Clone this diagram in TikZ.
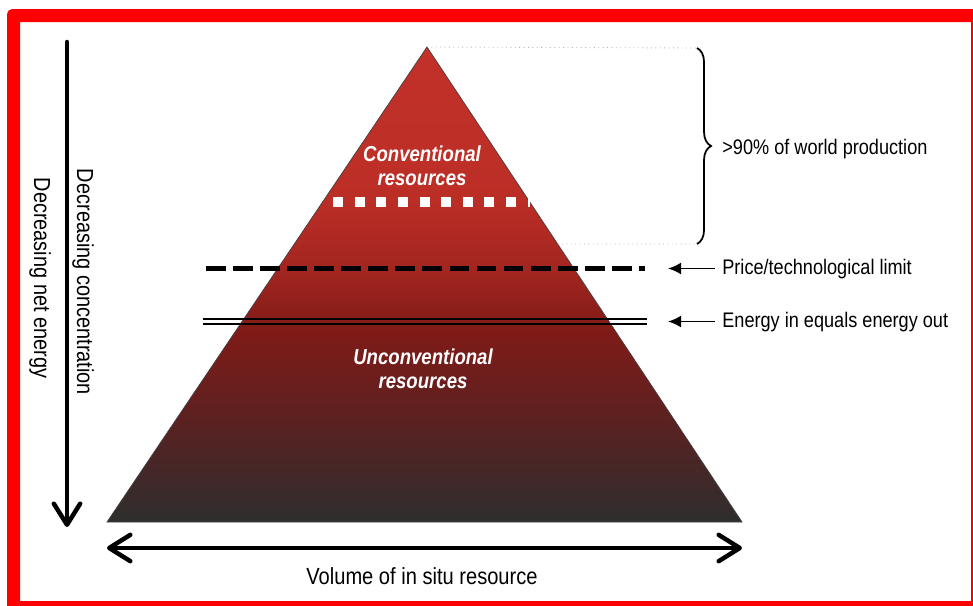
\documentclass[tikz,border=0pt]{standalone}
\usepackage{fontspec}
\setmainfont{Liberation Sans}[FakeStretch=0.86]
\usepackage{tikz}
\usetikzlibrary{arrows.meta,calc,decorations.pathreplacing,positioning}
\definecolor{pyrtop}{HTML}{C2312A}
\definecolor{pyrupper}{HTML}{BB2E26}
\definecolor{pyrline}{HTML}{A32520}
\definecolor{pyrmid}{HTML}{801B17}
\definecolor{pyrlow}{HTML}{5B2121}
\definecolor{pyrbot}{HTML}{2E2E2E}
\definecolor{frame}{HTML}{FF0000}
\pgfdeclareverticalshading{pyrshade}{100bp}{color(0bp)=(pyrbot); color(25bp)=(pyrbot); color(35.7bp)=(pyrlow); color(45.2bp)=(pyrmid); color(51.5bp)=(pyrline); color(58.9bp)=(pyrupper); color(75bp)=(pyrtop); color(100bp)=(pyrtop)}

\begin{document}
\begin{tikzpicture}[
		x=0.02cm, y=-0.02cm,
		>={Latex[length=7.4pt,width=6.8pt]},
		font=\fontsize{12}{14}\selectfont,
		res/.style={
			text=white,
			align=center,
			inner sep=0pt,
			font=\fontsize{12.3}{13.6}\selectfont\bfseries\itshape
		},
		note/.style={
			anchor=west,
			inner sep=0pt
		},
		axislabel/.style={
			rotate=-90,
			inner sep=0pt,
			font=\fontsize{13.2}{15}\selectfont
		},
		barb/.style={
			line width=2.55pt,
			line cap=round,
			-{Straight Barb[length=12pt,width=15pt,round]}
		},
		barbs/.style={
			barb,
			{Straight Barb[length=12pt,width=15pt,round]}-{Straight Barb[length=12pt,width=15pt,round]}
		},
		pointer/.style={
			line width=1.1pt,
			->
		},
		guide/.style={
			draw=black!30,
			line width=0.5pt,
			dotted
		}
		]
		\useasboundingbox (0,0) rectangle (973,605);
		% red frame round the screenshot
		\fill[frame, even odd rule] [rounded corners=3pt] (7,9) rectangle (990,620)
			[sharp corners] (20,22) rectangle (971,601);
		
		% We start by placing the pyramid
		\coordinate (apex) at (427,47);
		\coordinate (baseL) at (107,522);
		\coordinate (baseR) at (742,522);
		\shade[shading=pyrshade, draw=black!75, line width=0.4pt] (apex) -- (baseR) -- (baseL) -- cycle;
		
		\coordinate (convL) at ($(apex)!0.3263!(baseL)$);
		\coordinate (convR) at ($(apex)!0.3263!(baseR)$);
		\coordinate (edgeR) at ($(apex)!0.4147!(baseR)$);
		\coordinate (braceT) at (697,48);
		\coordinate (braceB) at (697,244);
		
		\draw [guide] (apex) -- (braceT);
		\draw [guide] (edgeR) -- (braceB);
		\draw [white, line width=5.67pt, dash pattern=on 5.67pt off 6.63pt, dash phase=6.3pt] (convL) -- (convR);
		
		% limits
		\coordinate (priceL) at (206,268.5);
		\coordinate (priceR) at (645,268.5);
		\draw [line width=3.4pt, dash pattern=on 11.3pt off 4.1pt] (priceL) -- (priceR);
		
		\coordinate (eqL) at (203,321.5);
		\coordinate (eqR) at (647,321.5);
		\draw [line width=0.8pt] ([yshift=1.45pt]eqL) -- ([yshift=1.45pt]eqR);
		\draw [line width=0.8pt] ([yshift=-1.45pt]eqL) -- ([yshift=-1.45pt]eqR);
		
		\node [res] (conv) at (422,166) {Conventional\\resources};
		\node [res] (unconv) at (423,369) {Unconventional\\resources};
		
		% labels on the right
		\draw [decorate, decoration={brace, amplitude=8pt}, line width=1pt] (braceT) -- (braceB);
		\node [note] (prod) at (722,149.5) {>90\% of world production};
		\node [note] (price) at (722,269) {Price/technological limit};
		\node [note] (energy) at (722,322) {Energy in equals energy out};
		
		\coordinate (priceTip) at (668,268.5);
		\coordinate (energyTip) at (668,321.5);
		\draw [pointer] ([xshift=-4pt]price.west |- priceTip) -- (priceTip);
		\draw [pointer] ([xshift=-4pt]energy.west |- energyTip) -- (energyTip);
		
		% axes
		\coordinate (concT) at (67,42);
		\coordinate (concB) at (67,527);
		\draw [barb] (concT) -- (concB);
		\node [axislabel] (conc) at (83,282) {Decreasing concentration};
		\node [axislabel] (net) at (40,278) {Decreasing net energy};
		
		\coordinate (volL) at (107,548);
		\coordinate (volR) at (742,548);
		\draw [barbs] (volL) -- (volR);
		\node [font=\fontsize{13.3}{15}\selectfont] (vol) at (422,576) {Volume of in situ resource};
		
		\end{tikzpicture}
\end{document}
